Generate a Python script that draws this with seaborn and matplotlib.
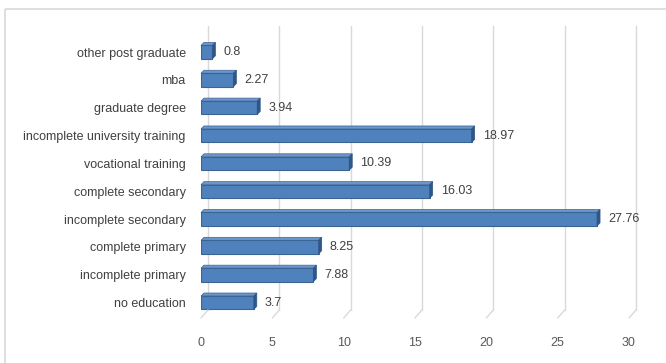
import matplotlib
matplotlib.use("Agg")
import matplotlib.pyplot as plt
import matplotlib.transforms as mtransforms
from matplotlib.patches import Polygon, Rectangle
import seaborn as sns
import pandas as pd

categories = ["other post graduate", "mba", "graduate degree",
              "incomplete university training", "vocational training",
              "complete secondary", "incomplete secondary", "complete primary",
              "incomplete primary", "no education"]
values = [0.8, 2.27, 3.94, 18.97, 10.39, 16.03, 27.76, 8.25, 7.88, 3.7]
value_labels = ["0.8", "2.27", "3.94", "18.97", "10.39", "16.03", "27.76", "8.25", "7.88", "3.7"]
xticks = [0, 5, 10, 15, 20, 25, 30]

sns.set_theme(style="white")
plt.rcParams['font.family'] = ['Liberation Sans', 'DejaVu Sans']

W, H = 666, 363
fig = plt.figure(figsize=(W / 100, H / 100), dpi=100)
# outer chart border
fig.patches.append(Rectangle((5 / W, 1 - 9 / H), 700 / W, -400 / H, transform=fig.transFigure,
                             fill=False, edgecolor="#D9D9D9", linewidth=1.2))

left, right, top, bottom = 201, 629, 34, 318
ax = fig.add_axes([left / W, 1 - bottom / H, (right - left) / W, (bottom - top) / H])

df = pd.DataFrame({"category": categories, "value": values})
sns.barplot(data=df, y="category", x="value", orient="h", color="#4F81BD",
            saturation=1, width=0.48, edgecolor="#3A6494", linewidth=0.8, ax=ax, zorder=3)

ax.set_xlim(0, 30)
ax.set_ylim(9.55, -0.65)
ax.set_xticks(xticks)
ax.set_xticklabels([str(t) for t in xticks])

# back-wall gridlines (offset up-right for 3D look) and floor diagonals
dx, dy = 7, 8
off = mtransforms.ScaledTranslation(dx / 100, dy / 100, fig.dpi_scale_trans)
for t in xticks:
    ax.plot([t, t], [9.55, -0.65], color="#D9D9D9", linewidth=1,
            transform=ax.transData + off, zorder=1, clip_on=False)
    x0, y0 = ax.transData.transform((t, 9.55))
    fig.add_artist(plt.Line2D([x0 / W, (x0 + dx) / W], [y0 / H, (y0 + dy) / H],
                              transform=fig.transFigure, color="#D9D9D9", linewidth=1))

# 3D side faces on bars
inv = ax.transData.inverted()
for p in ax.patches:
    x, y = p.get_x(), p.get_y()
    w, h = p.get_width(), p.get_height()
    (px0, py0) = ax.transData.transform((x + w, y))
    (px1, py1) = ax.transData.transform((x + w, y + h))
    d = 3
    side = [(px0, py0), (px0 + d, py0 + d), (px1 + d, py1 + d), (px1, py1)]
    side = [inv.transform(pt) for pt in side]
    ax.add_patch(Polygon(side, closed=True, facecolor="#2F5687", edgecolor="#2F5687",
                         linewidth=0.5, zorder=4, clip_on=False))
    (ax0, ay0) = ax.transData.transform((x, y))
    topf = [(ax0, ay0), (ax0 + d, ay0 + d), (px0 + d, py0 + d), (px0, py0)]
    topf = [inv.transform(pt) for pt in topf]
    ax.add_patch(Polygon(topf, closed=True, facecolor="#6B96CB", edgecolor="#3A6494",
                         linewidth=0.5, zorder=2, clip_on=False))

for i, (v, lab) in enumerate(zip(values, value_labels)):
    ax.annotate(lab, (v, i), xytext=(8, 0), textcoords="offset points",
                va="center", ha="left", fontsize=9, color="#404040")

ax.set_xlabel("")
ax.set_ylabel("")
for s in ax.spines.values():
    s.set_visible(False)
ax.tick_params(axis="x", length=0, pad=14, labelsize=9, labelcolor="#595959")
ax.tick_params(axis="y", length=0, pad=11, labelsize=9, labelcolor="#404040")
ax.patch.set_alpha(0)
ax.grid(False)

fig.savefig("out.png", dpi=100)
